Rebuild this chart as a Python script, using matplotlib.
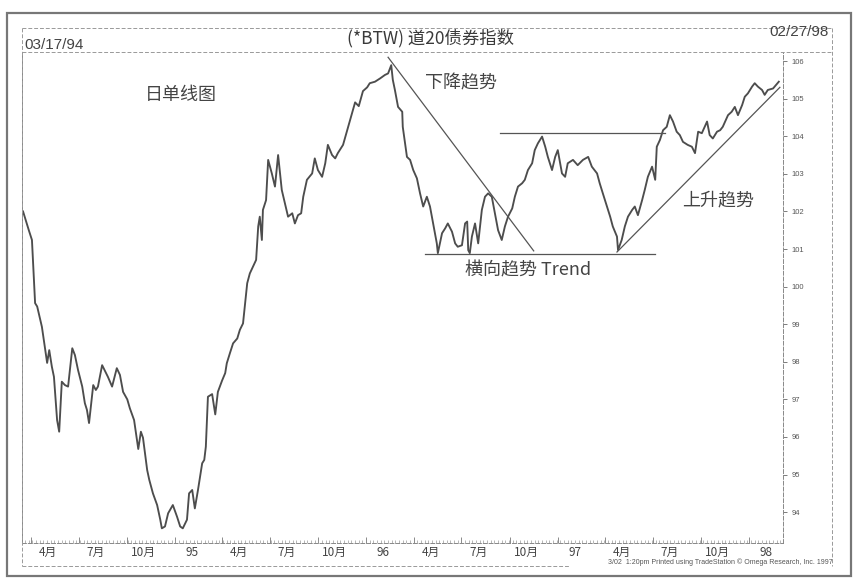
import pandas as pd
import matplotlib
matplotlib.use('Agg')
import matplotlib.pyplot as plt
import matplotlib.dates as mdates
import matplotlib.transforms as mtransforms
from matplotlib.lines import Line2D
from matplotlib.patches import Rectangle

plt.rcParams['font.family'] = ['Noto Sans CJK SC', 'DejaVu Sans']

# daily close: days after 1994-03-17 and index level
start_date = '1994-03-17'
days = [0, 11, 17, 23, 27, 36, 46, 50, 55, 59, 65, 69, 74, 80, 86, 94, 99, 105,
        113, 118, 122, 126, 134, 139, 143, 151, 157, 162, 170, 179, 185, 191,
        199, 204, 212, 220, 225, 229, 237, 241, 248, 256, 262, 265, 271, 277,
        286, 294, 300, 305, 313, 317, 323, 328, 334, 342, 346, 349, 353, 361,
        367, 372, 380, 386, 389, 395, 401, 409, 414, 420, 428, 433, 439, 445,
        449, 452, 456, 458, 464, 468, 475, 481, 487, 494, 500, 506, 514, 519,
        525, 531, 535, 542, 552, 557, 563, 571, 577, 582, 590, 596, 601, 611,
        619, 626, 634, 641, 649, 657, 662, 672, 682, 691, 697, 703, 706, 710,
        716, 724, 725, 733, 739, 745, 752, 758, 764, 771, 777, 783, 790, 792,
        800, 806, 811, 819, 825, 830, 838, 844, 848, 850, 853, 857, 863, 869,
        876, 882, 888, 895, 901, 907, 914, 920, 926, 934, 939, 945, 953, 958,
        964, 972, 977, 983, 991, 997, 1002, 1010, 1016, 1021, 1029, 1035, 1040,
        1050, 1059, 1069, 1079, 1086, 1096, 1101, 1107, 1115, 1121, 1126, 1134,
        1136, 1143, 1149, 1155, 1163, 1168, 1174, 1182, 1187, 1193, 1201, 1207,
        1210, 1216, 1222, 1229, 1235, 1241, 1248, 1254, 1260, 1269, 1277, 1283,
        1289, 1296, 1306, 1311, 1317, 1325, 1331, 1336, 1346, 1353, 1359, 1365,
        1373, 1378, 1384, 1392, 1397, 1403, 1411, 1416, 1422, 1432, 1443]
closes = [102.0, 101.5, 101.24, 99.56, 99.47, 98.93, 97.97, 98.31, 97.87, 97.6,
          96.45, 96.14, 97.47, 97.38, 97.34, 98.36, 98.18, 97.78, 97.34, 96.9,
          96.72, 96.37, 97.38, 97.25, 97.34, 97.91, 97.74, 97.6, 97.34, 97.83,
          97.65, 97.2, 97.0, 96.76, 96.45, 95.68, 96.14, 95.98, 95.12, 94.86,
          94.5, 94.19, 93.8, 93.57, 93.62, 93.97, 94.19, 93.88, 93.62, 93.57,
          93.8, 94.5, 94.59, 94.1, 94.59, 95.3, 95.39, 95.74, 97.07, 97.14,
          96.6, 97.2, 97.5, 97.7, 97.96, 98.23, 98.49, 98.62, 98.85, 99.02,
          100.09, 100.35, 100.53, 100.71, 101.6, 101.86, 101.24, 102.04, 102.3,
          103.37, 103.01, 102.66, 103.5, 102.57, 102.22, 101.86, 101.95, 101.68,
          101.9, 101.95, 102.39, 102.84, 103.01, 103.41, 103.1, 102.92, 103.28,
          103.77, 103.5, 103.41, 103.55, 103.77, 104.16, 104.5, 104.9, 104.8,
          105.2, 105.3, 105.41, 105.45, 105.54, 105.63, 105.67, 105.89, 105.5,
          105.23, 104.78, 104.65, 104.25, 103.45, 103.37, 103.1, 102.88, 102.48,
          102.13, 102.39, 102.13, 101.68, 101.15, 100.89, 101.42, 101.55,
          101.68, 101.46, 101.15, 101.06, 101.1, 101.68, 101.73, 100.97, 100.89,
          101.33, 101.68, 101.15, 102.04, 102.39, 102.48, 102.39, 101.95, 101.5,
          101.24, 101.6, 101.86, 102.08, 102.39, 102.66, 102.75, 102.84, 103.1,
          103.28, 103.63, 103.81, 103.99, 103.72, 103.45, 103.1, 103.45, 103.63,
          103.01, 102.92, 103.28, 103.37, 103.23, 103.37, 103.45, 103.19,
          103.01, 102.75, 102.48, 102.13, 101.86, 101.6, 101.33, 100.97, 101.24,
          101.6, 101.86, 102.04, 102.13, 101.9, 102.3, 102.57, 102.92, 103.19,
          102.84, 103.72, 103.9, 104.16, 104.25, 104.56, 104.39, 104.12, 104.03,
          103.85, 103.77, 103.72, 103.55, 104.12, 104.08, 104.39, 104.03,
          103.94, 104.12, 104.16, 104.25, 104.56, 104.65, 104.78, 104.56,
          104.83, 105.05, 105.14, 105.32, 105.41, 105.32, 105.23, 105.1, 105.23,
          105.27, 105.45]

# hand drawn trend lines (days after start, level)
down_days = [697, 975]
down_vals = [106.1, 100.95]
support_days = [767, 1207]
support_vals = [100.88, 100.88]
resist_days = [911, 1226]
resist_vals = [104.08, 104.08]
up_days = [1134, 1445]
up_vals = [100.92, 105.3]

month_ticks = ['1994-04-01', '1994-07-01', '1994-10-01', '1995-01-01',
               '1995-04-01', '1995-07-01', '1995-10-01', '1996-01-01',
               '1996-04-01', '1996-07-01', '1996-10-01', '1997-01-01',
               '1997-04-01', '1997-07-01', '1997-10-01', '1998-01-01']
month_labels = ['4月', '7月', '10月', '95', '4月', '7月', '10月', '96',
                '4月', '7月', '10月', '97', '4月', '7月', '10月', '98']
price_ticks = list(range(94, 107))

t0 = pd.Timestamp(start_date)
def to_dates(d):
    return t0 + pd.to_timedelta(d, unit='D')

W, H = 855, 583
fx = lambda x: x / W
fy = lambda y: 1 - y / H

fig = plt.figure(figsize=(8.55, 5.83), dpi=100)
fig.patch.set_facecolor('white')
ax = fig.add_axes([fx(22), fy(543), fx(783) - fx(22), fy(52) - fy(543)])

ink = '#4d4d4d'
ax.plot(to_dates(days), closes, color=ink, lw=1.35)
for d, v in [(down_days, down_vals), (support_days, support_vals),
             (resist_days, resist_vals), (up_days, up_vals)]:
    ax.plot(to_dates(d), v, color='#555555', lw=0.9)

ax.set_xlim(to_dates(-2), to_dates(1451))
ax.set_ylim(93.18, 106.24)

ax.yaxis.tick_right()
ax.set_yticks(price_ticks)
ax.set_yticklabels([str(p) for p in price_ticks], family='Liberation Sans')
ax.tick_params(axis='y', right=True, direction='out', length=3, width=0.6,
               colors='#666666', labelsize=5.5, pad=3, labelcolor='#555555')

ax.set_xticks(pd.to_datetime(month_ticks))
ax.set_xticklabels(month_labels)
ax.xaxis.set_minor_locator(mdates.WeekdayLocator(byweekday=mdates.MO))
ax.tick_params(axis='x', which='major', direction='in', length=4, width=0.6,
               colors='#777777', labelsize=8.5, pad=2, labelcolor='#444444')
ax.tick_params(axis='x', which='minor', direction='in', length=2, width=0.5,
               colors='#999999')
shift = mtransforms.ScaledTranslation(0.17, 0, fig.dpi_scale_trans)
for lab in ax.get_xticklabels():
    lab.set_transform(lab.get_transform() + shift)

for side in ['top', 'left', 'bottom', 'right']:
    ax.spines[side].set_color('#888888')
    ax.spines[side].set_linewidth(0.7)
    ax.spines[side].set_linestyle((0, (4, 2)))
ax.spines['top'].set_visible(False)

# annotations
ax.text(to_dates(302), 105.1, '日单线图', fontsize=13, color='#444444',
        ha='center', va='center')
ax.text(to_dates(836), 105.41, '下降趋势', fontsize=13, color='#444444',
        ha='center', va='center')
ax.text(to_dates(1327), 102.28, '上升趋势', fontsize=13, color='#444444',
        ha='center', va='center')
ax.text(to_dates(964), 100.44, '横向趋势 Trend', fontsize=13, color='#444444',
        ha='center', va='center')

# header band
fig.text(fx(430), fy(38), '(*BTW) 道20债券指数', fontsize=12.5, color='#3a3a3a',
         ha='center', va='center')
fig.text(fx(24), fy(45), '03/17/94', fontsize=11, color='#444444',
         family='Liberation Sans', ha='left', va='center')
fig.text(fx(829), fy(32), '02/27/98', fontsize=11, color='#444444',
         family='Liberation Sans', ha='right', va='center')
fig.text(fx(833), fy(562),
         '3/02  1:20pm Printed using TradeStation © Omega Research, Inc. 1997',
         fontsize=5, color='#555555', family='Liberation Sans',
         ha='right', va='center')

# page frame and dashed chart borders
fig.add_artist(Rectangle((fx(7), fy(576)), fx(851) - fx(7), fy(13) - fy(576),
                         transform=fig.transFigure, fill=False,
                         edgecolor='#777777', lw=1.6))
dash = dict(color='#999999', lw=0.7, linestyle=(0, (4, 2)),
            transform=fig.transFigure)
fig.add_artist(Line2D([fx(22), fx(832)], [fy(28), fy(28)], **dash))
fig.add_artist(Line2D([fx(22), fx(832)], [fy(52), fy(52)], **dash))
fig.add_artist(Line2D([fx(832), fx(832)], [fy(28), fy(566)], **dash))
fig.add_artist(Line2D([fx(22), fx(22)], [fy(28), fy(566)], **dash))
fig.add_artist(Line2D([fx(22), fx(570)], [fy(566), fy(566)], **dash))

fig.savefig('out.png', dpi=100, facecolor='white')
